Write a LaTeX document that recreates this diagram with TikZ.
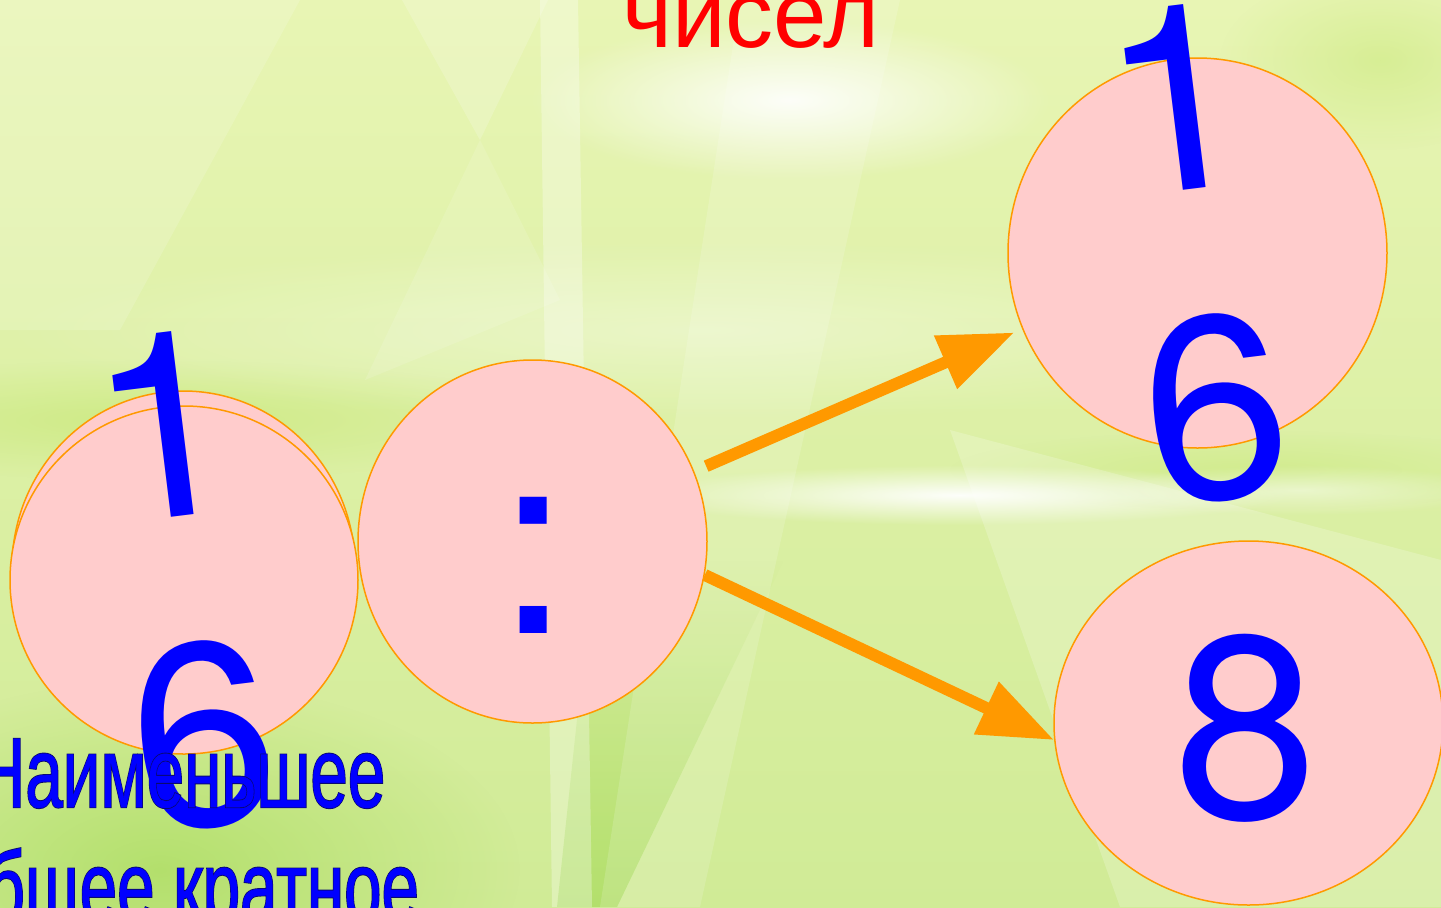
\documentclass[tikz,border=0pt]{standalone}
\usepackage{fontspec}
\setmainfont{Liberation Sans}
\newfontfamily\digitfont{TeX Gyre Heros}
\newfontfamily\boldsans[FakeBold=0.5]{Liberation Sans}
\newfontfamily\heavysans[FakeBold=2.3]{Liberation Sans}
\usetikzlibrary{shapes.geometric,arrows.meta,fadings}
\tikzfading[name=glowfade, inner color=transparent!0, outer color=transparent!100]
\definecolor{pinkfill}{RGB}{255,204,204}
\definecolor{orng}{RGB}{255,153,0}
\definecolor{digblue}{RGB}{0,0,255}
\definecolor{navy}{RGB}{10,10,110}
\definecolor{titlered}{RGB}{255,0,0}
\definecolor{bgtop}{RGB}{232,245,180}
\definecolor{bgmid}{RGB}{216,238,160}
\definecolor{bgbot}{RGB}{208,235,150}
\definecolor{deepgreen}{RGB}{160,216,80}
\definecolor{lightgreen}{RGB}{200,232,120}
\newcommand{\outlined}[1]{\makebox[0pt][l]{\heavysans\color{navy}#1}{\boldsans\color{digblue}#1}}
\begin{document}
\begin{tikzpicture}[x=0.5pt,y=-0.5pt,
  bubble/.style={ellipse, draw=orng, fill=pinkfill, line width=0.75pt, inner sep=0pt},
  digits/.style={text=digblue, font=\digitfont\fontsize{130pt}{155pt}\selectfont, align=center, inner sep=0pt},
  arrowline/.style={draw=orng, line width=6pt, -{Triangle[length=37.5pt,width=27.5pt]}},
  ray/.style={fill=white, opacity=0.18},
  caption/.style={font=\fontsize{49.5pt}{57pt}\selectfont, anchor=base, inner sep=0pt}]
\useasboundingbox (0,0) rectangle (1441,907);
% ---- background ----
\shade[top color=bgtop, middle color=bgmid, bottom color=bgbot] (0,0) rectangle (1441,907);
\fill[lightgreen, path fading=glowfade, opacity=0.7] (150,420) ellipse [x radius=420, y radius=60];
\fill[deepgreen, path fading=glowfade, opacity=0.6] (160,870) ellipse [x radius=360, y radius=190];
\fill[deepgreen, path fading=north, opacity=0.6] (594,560) -- (784,560) -- (617,907) -- (557,907) -- cycle;
\fill[lightgreen, path fading=glowfade, opacity=0.5] (1380,60) ellipse [x radius=160, y radius=90];
\fill[lightgreen, path fading=glowfade, opacity=0.5] (1250,470) ellipse [x radius=300, y radius=40];
% rays
\fill[ray, opacity=0.3] (540,0) -- (578,0) -- (592,907) -- (552,907) -- cycle;
\fill[ray] (402,0) -- (548,0) -- (480,140) -- cycle;
\fill[ray, opacity=0.12] (480,140) -- (365,380) -- (560,300) -- cycle;
\fill[ray, opacity=0.15] (740,0) -- (900,0) -- (700,907) -- (600,907) -- cycle;
\fill[ray, opacity=0.2] (950,430) -- (1441,560) -- (1441,907) -- (1120,907) -- cycle;
\fill[ray, opacity=0.15] (0,0) -- (300,0) -- (120,330) -- (0,330) -- cycle;
% glows
\fill[white, path fading=glowfade, opacity=0.9] (790,100) ellipse [x radius=260, y radius=80];
\fill[white, path fading=glowfade, opacity=0.95] (960,495) ellipse [x radius=330, y radius=30];
\fill[white, path fading=glowfade, opacity=0.5] (1300,490) ellipse [x radius=200, y radius=25];
\fill[white, path fading=glowfade, opacity=0.35] (700,330) ellipse [x radius=700, y radius=90];
% ---- bubbles ----
\node[bubble, minimum width=171.5pt, minimum height=177pt] (lback) at (183.5,568) {};
\node[bubble, minimum width=174pt, minimum height=174pt] (lfront) at (184,580) {};
\node[bubble, minimum width=174.5pt, minimum height=181.5pt] (mid) at (532.5,541.5) {};
\node[bubble, minimum width=189.5pt, minimum height=195pt] (tr) at (1197.5,253) {};
\node[bubble, minimum width=194.5pt, minimum height=182pt] (br) at (1248.5,723) {};
% ---- arrows ----
\draw[arrowline, shorten <=6.5pt, shorten >=4.3pt] (mid) -- (tr);
\draw[arrowline] (mid.-11) -- (br.185.9);
% ---- digits ----
\node[digits, rotate=7] (ldig) at (184,581) {1\\6};
\node[digits, rotate=7] (rdig) at (1196,254) {1\\6};
\node[digits, anchor=base] (colon) at (534,633) {:};
\node[digits, anchor=base] (eight) at (1246,818) {8};
% ---- texts ----
\node[text=titlered, font=\fontsize{48pt}{58pt}\selectfont, anchor=base, inner sep=0pt] (title) at (751,47) {чисел};
\node[caption] (lbl1) at (181,807) {\scalebox{0.68}[1]{\outlined{Наименьшее}}};
\node[caption] (lbl2) at (184,921) {\scalebox{0.68}[1]{\outlined{общее кратное}}};
\end{tikzpicture}
\end{document}
